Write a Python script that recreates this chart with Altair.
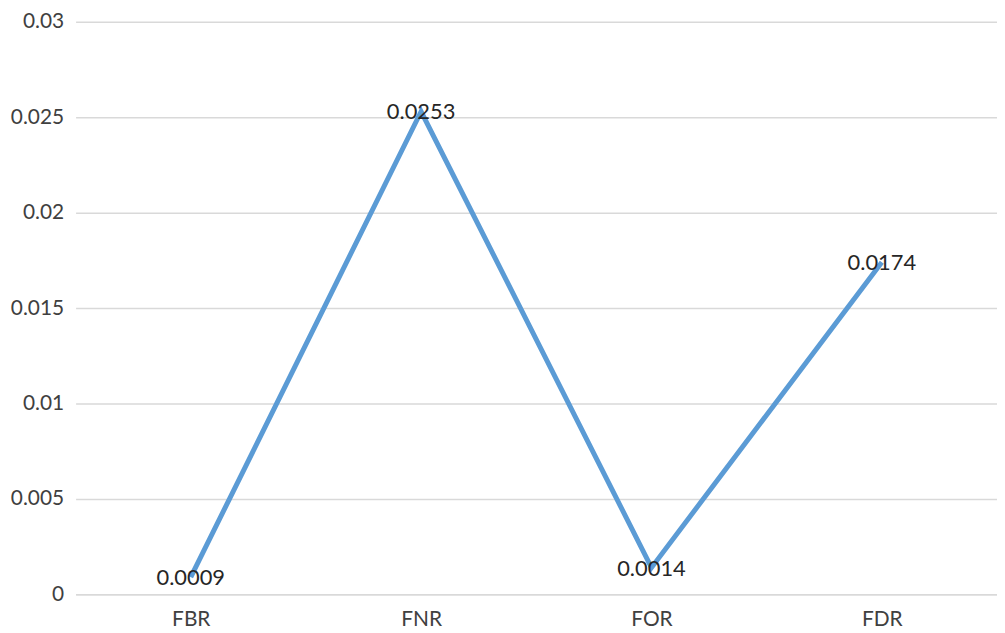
import altair as alt
import pandas as pd

categories = ["FBR", "FNR", "FOR", "FDR"]
values = [0.0009, 0.0253, 0.0014, 0.0174]
labels = ["0.0009", "0.0253", "0.0014", "0.0174"]

df = pd.DataFrame({"cat": categories, "val": values, "lab": labels})

FONT = "Lato"
TXT = "#404040"
FS = 21

x = alt.X("cat:N", sort=categories, title=None,
          scale=alt.Scale(paddingInner=0, paddingOuter=0),
          axis=alt.Axis(labelAngle=0, labelFontSize=FS, labelFont=FONT, labelColor=TXT,
                        ticks=False, domainColor="#d9d9d9", domainWidth=1.5,
                        labelPadding=14, grid=False))
y = alt.Y("val:Q", title=None,
          scale=alt.Scale(domain=[0, 0.03], nice=False),
          axis=alt.Axis(values=[0, 0.005, 0.01, 0.015, 0.02, 0.025, 0.03],
                        labelExpr="datum.value == 0 ? '0' : format(datum.value, '~g')",
                        labelFontSize=FS, labelFont=FONT, labelColor=TXT,
                        ticks=False, domain=False, labelPadding=12,
                        gridColor="#d9d9d9", gridWidth=1.5))

line = alt.Chart(df).mark_line(color="#5B9BD5", strokeWidth=5).encode(x=x, y=y)
text = alt.Chart(df).mark_text(fontSize=FS + 1, font=FONT, color="#262626", baseline="middle", dy=1).encode(
    x=alt.X("cat:N", sort=categories), y="val:Q", text="lab:N")

chart = (line + text).properties(
    width=927, height=576,
    autosize=alt.AutoSizeParams(type="none"),
    padding={"left": 68, "top": 12, "right": 0, "bottom": 40},
).configure_view(stroke=None)

chart.save("out.html", embed_options={"renderer": "svg", "actions": False})
